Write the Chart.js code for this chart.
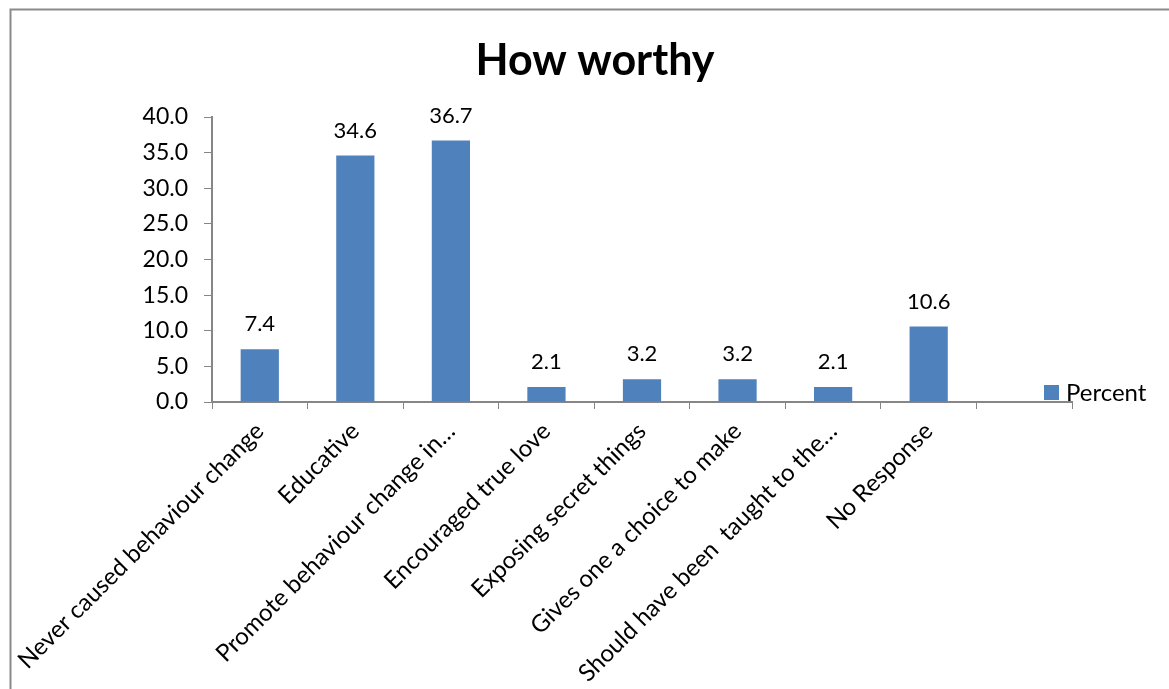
<!DOCTYPE html>
<html>
<head>
<meta charset="utf-8">
<title>How worthy</title>
<script src="https://cdn.jsdelivr.net/npm/chart.js@4.4.1/dist/chart.umd.min.js"></script>
<style>
  html, body { margin: 0; padding: 0; background: #ffffff; }
  #wrap { width: 1169px; height: 689px; position: relative; }
  canvas { display: block; }
</style>
</head>
<body>
<div id="wrap"><canvas id="chart" width="1169" height="689"></canvas></div>
<script>
// Survey responses: how worthy the programme was judged to be (percent)
const categories = [
  'Never caused behaviour change',
  'Educative',
  'Promote behaviour change in…',
  'Encouraged true love',
  'Exposing secret things',
  'Gives one a choice to make',
  'Should have been  taught to the…',
  'No Response',
  ''
];
const percentValues = [7.4, 34.6, 36.7, 2.1, 3.2, 3.2, 2.1, 10.6, null];
const seriesName = 'Percent';
const chartTitle = 'How worthy';
const yTickMin = 0;
const yTickMax = 40;
const yTickStep = 5;

const FONT = 'Lato, "Open Sans", sans-serif';
const BAR_COLOR = '#4F81BD';
const AXIS_COLOR = '#868686';

// Outer chart frame (top and left edges)
const framePlugin = {
  id: 'frame',
  beforeDraw(chart) {
    const ctx = chart.ctx;
    ctx.save();
    ctx.fillStyle = '#ffffff';
    ctx.fillRect(0, 0, chart.width, chart.height);
    ctx.strokeStyle = '#8a8a8a';
    ctx.lineWidth = 2;
    ctx.beginPath();
    ctx.moveTo(10.5, chart.height);
    ctx.lineTo(10.5, 9.5);
    ctx.lineTo(chart.width, 9.5);
    ctx.stroke();
    ctx.restore();
  }
};

// Value labels above each bar
const valueLabelPlugin = {
  id: 'valueLabels',
  afterDatasetsDraw(chart) {
    const ctx = chart.ctx;
    ctx.save();
    ctx.font = '22px ' + FONT;
    ctx.fillStyle = '#000000';
    ctx.textAlign = 'center';
    ctx.textBaseline = 'middle';
    chart.data.datasets.forEach((ds, di) => {
      const meta = chart.getDatasetMeta(di);
      meta.data.forEach((bar, i) => {
        const v = ds.data[i];
        if (v === null || v === undefined) return;
        ctx.fillText(v.toFixed(1), bar.x, bar.y - 25);
      });
    });
    ctx.restore();
  }
};

// Legend entry sitting at the right end of the category axis
const legendPlugin = {
  id: 'sideLegend',
  afterDraw(chart) {
    const ctx = chart.ctx;
    const area = chart.chartArea;
    const ds = chart.data.datasets[0];
    const boxX = area.right - 28;
    const cy = area.bottom - 9;
    ctx.save();
    ctx.fillStyle = ds.backgroundColor;
    ctx.fillRect(boxX, cy - 8, 15, 15);
    ctx.font = '24px ' + FONT;
    ctx.fillStyle = '#000000';
    ctx.textAlign = 'left';
    ctx.textBaseline = 'middle';
    ctx.fillText(ds.label, boxX + 22, cy);
    ctx.restore();
  }
};

const chart = new Chart(document.getElementById('chart'), {
  type: 'bar',
  data: {
    labels: categories,
    datasets: [{
      label: seriesName,
      data: percentValues,
      backgroundColor: BAR_COLOR,
      borderWidth: 0,
      categoryPercentage: 1.0,
      barPercentage: 0.4,
      yAxisID: 'y'
    }]
  },
  options: {
    responsive: false,
    animation: false,
    devicePixelRatio: 1,
    layout: { padding: { left: 21, right: 0, top: 0, bottom: 0 } },
    plugins: {
      legend: { display: false },
      tooltip: { enabled: false },
      title: {
        display: true,
        text: chartTitle,
        color: '#000000',
        font: { family: FONT, size: 43, weight: 'bold' },
        padding: { top: 35, bottom: 30.4 }
      }
    },
    scales: {
      x: {
        offset: true,
        grid: {
          display: true,
          offset: true,
          drawOnChartArea: false,
          drawTicks: true,
          tickLength: 7,
          color: AXIS_COLOR,
          lineWidth: 1
        },
        border: { display: true, color: AXIS_COLOR, width: 2 },
        ticks: {
          autoSkip: false,
          minRotation: 45,
          maxRotation: 45,
          padding: 8,
          color: '#000000',
          font: { family: FONT, size: 24 }
        },
        afterFit(scale) {
          scale.height = 287;
          scale.paddingLeft = 0;
          scale.paddingRight = 0;
        }
      },
      y: {
        min: yTickMin,
        max: yTickMax,
        grid: {
          display: true,
          drawOnChartArea: false,
          drawTicks: true,
          tickLength: 8,
          color: AXIS_COLOR
        },
        border: { display: true, color: AXIS_COLOR, width: 2 },
        ticks: {
          stepSize: yTickStep,
          padding: 16,
          color: '#000000',
          font: { family: FONT, size: 23 },
          callback: (v) => Number(v).toFixed(1)
        },
        afterFit(scale) {
          scale.width = 191;
        }
      },
      // Empty right-hand strip that holds the legend entry
      legendStrip: {
        type: 'linear',
        position: 'right',
        display: true,
        grid: { display: false },
        border: { display: false },
        ticks: { display: false },
        afterFit(scale) {
          scale.width = 97;
        }
      }
    }
  },
  plugins: [framePlugin, valueLabelPlugin, legendPlugin]
});
</script>
</body>
</html>
